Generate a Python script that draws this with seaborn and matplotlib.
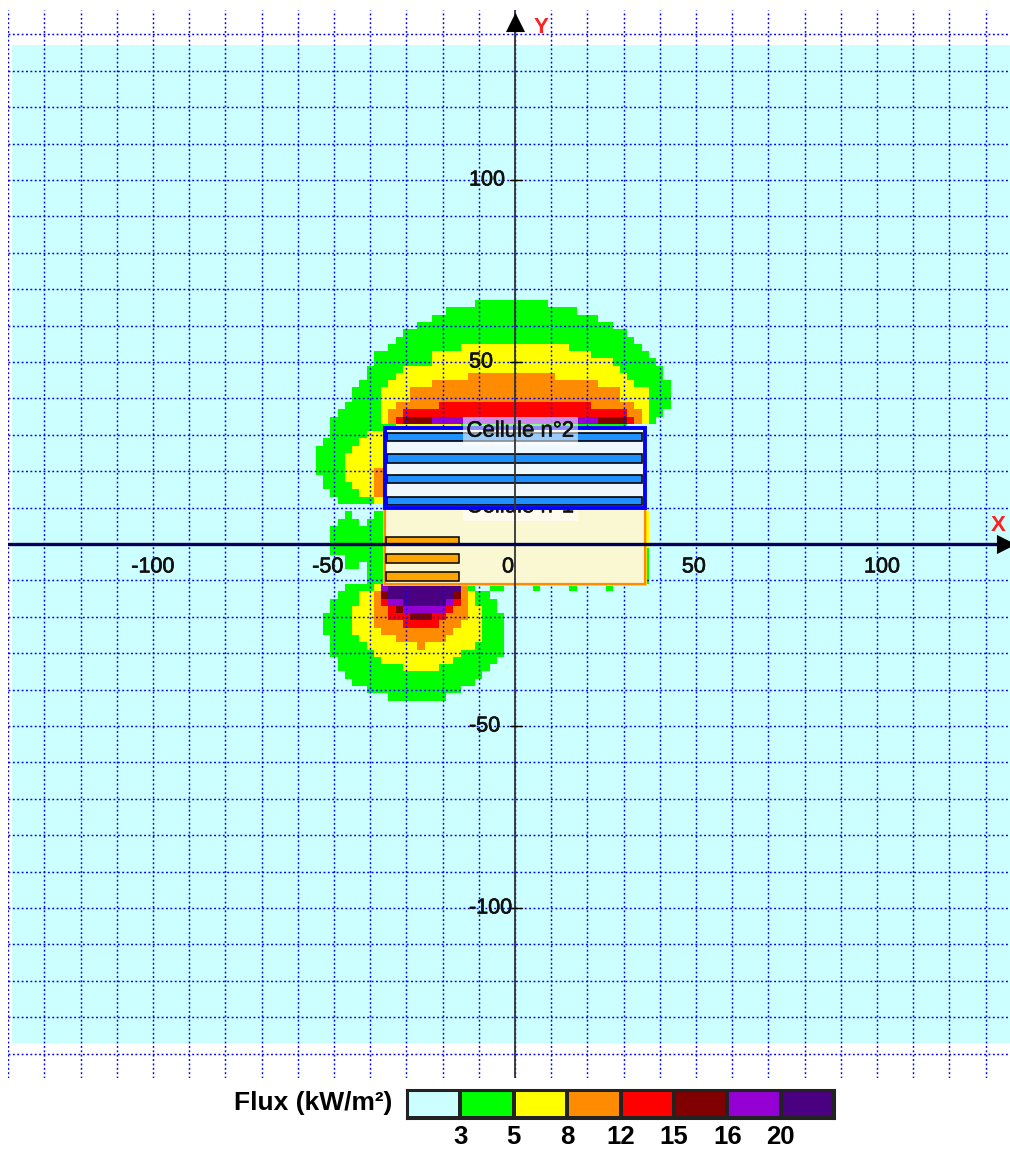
import numpy as np
import matplotlib
matplotlib.use("Agg")
import matplotlib.pyplot as plt
import matplotlib.patheffects as pe
from matplotlib.colors import ListedColormap
import seaborn as sns

# legend
flux_labels = ["3", "5", "8", "12", "15", "16", "20"]
flux_colors = ["#CCFFFF", "#00FF00", "#FFFF00", "#FF8C00", "#FF0000", "#800000", "#9400D3", "#4B0082"]

# rows of the flux map: (top of row in y, left x, right x), each band painted over the previous one
green_rows = [(67, -11, 9), (65, -19, 17), (63, -23, 23), (61, -27, 27), (59, -31, 31), (57, -33, 33),
              (55, -35, 35), (53, -39, 37), (51, -39, 39), (49, -41, 41), (47, -41, 41), (45, -43, 43),
              (43, -45, 43), (41, -45, 43), (39, -47, 43), (37, -49, 41), (35, -51, 39), (33, -51, 31),
              (31, -51, -35), (29, -53, -35), (27, -55, -35), (25, -55, -35), (23, -55, -35), (21, -55, -35),
              (19, -53, -35), (17, -53, -35), (15, -51, -35), (13, -49, -35),
              (9, -47, -45), (9, -39, -35), (7, -49, -43), (7, -41, -35), (5, -51, -35), (3, -51, -35),
              (1, -51, -35), (-1, -51, -35), (-3, -47, -35), (-5, -47, -43), (-5, -41, -35), (-7, -41, -35),
              (-9, -41, -35), (-1, 35, 37), (-3, 35, 37), (-5, 35, 37), (-7, 35, 37), (-9, 35, 37),
              (-11, -47, -11), (-11, -7, -3), (-11, 5, 7), (-11, 15, 17), (-11, 25, 27),
              (-13, -49, -7), (-15, -51, -5), (-17, -51, -5), (-19, -53, -3), (-21, -53, -3), (-23, -53, -3),
              (-25, -51, -3), (-27, -51, -3), (-29, -51, -3), (-31, -49, -5), (-33, -49, -7), (-35, -47, -9),
              (-37, -45, -11), (-39, -41, -15), (-41, -35, -19)]
yellow_rows = [(55, -15, 15), (53, -23, 21), (51, -23, 27), (49, -31, 29), (47, -33, 31), (45, -35, 33),
               (43, -37, 37), (41, -37, 37), (39, -37, 37), (37, -37, 37), (35, -37, 37), (33, -33, -15),
               (31, -41, -35), (29, -43, -35), (27, -45, -35), (25, -47, -35), (23, -47, -35), (21, -47, -35),
               (19, -47, -35), (17, -45, -35), (15, -43, -35), (13, -39, -35),
               (9, 35, 37), (7, 35, 37), (5, 35, 37), (3, 35, 37), (1, 35, 37),
               (-11, -39, -13), (-13, -43, -11), (-15, -43, -11), (-17, -45, -9), (-19, -45, -9), (-21, -45, -9),
               (-23, -45, -9), (-25, -43, -9), (-27, -41, -11), (-29, -39, -15), (-31, -37, -17), (-33, -31, -21)]
orange_rows = [(47, -13, 11), (45, -23, 23), (43, -29, 29), (41, -29, 29), (39, -33, 33), (37, -35, 35), (35, -35, 35),
               (21, -39, -35), (19, -39, -35), (17, -39, -35), (15, -39, -35),
               (-11, -37, -13), (-13, -39, -13), (-15, -39, -13), (-17, -39, -13), (-19, -39, -13),
               (-21, -39, -15), (-23, -37, -17), (-25, -33, -19), (-27, -27, -25)]
red_rows = [(39, -21, 21), (37, -31, 31), (35, -33, 33),
            (-13, -37, -15), (-15, -37, -15), (-17, -35, -17), (-19, -35, -19), (-21, -31, -21)]
maroon_rows = [(35, -31, -23), (35, 23, 31), (-13, -37, -35), (-13, -17, -15), (-17, -33, -31), (-19, -29, -23)]
purple_rows = [(35, -23, 23), (-11, -37, -35), (-15, -35, -17), (-17, -31, -19)]
indigo_rows = [(-11, -35, -15), (-13, -35, -17), (-15, -31, -19)]

# buildings
cell_x = [-36, 36]
cell1_y = [-11, 10]
cell2_y = [10, 32]
cell1_stripe_x = [-35.6, -15.6]
cell1_stripes = [(-0.3, 1.9), (-5.2, -2.7), (-10.2, -7.7)]
cell2_stripe_x = [-35.4, 35]
cell2_stripes = [(28.3, 30.5), (22.3, 24.7), (16.8, 19), (10.7, 12.9)]

# axis labels, the drawn labels sit a little off their values
x_label_values = [-100, -50, 0, 50, 100]
x_label_positions = [-100, -51.7, -1.9, 49.4, 101.4]
y_label_values = [100, 50, -50, -100]

W, H = 1010, 1149
X0, Y0 = 515, 544        # pixel of the origin
SX, SY = 3.62, 3.64      # pixels per metre


def px_axes(left, top, right, bottom):
    return [left / W, 1 - bottom / H, (right - left) / W, (bottom - top) / H]


sns.set_theme(style="white")
plt.rcParams["font.family"] = ["Liberation Sans", "DejaVu Sans"]

fig = plt.figure(figsize=(W / 100, H / 100), dpi=100, facecolor="white")

# flux map
x_edges = np.arange(-139, 138, 2)
y_edges = np.arange(137, -138, -2)
field = np.zeros((len(y_edges) - 1, len(x_edges) - 1))
bands = [green_rows, yellow_rows, orange_rows, red_rows, maroon_rows, purple_rows, indigo_rows]
for level, rows in enumerate(bands, start=1):
    for y_top, x_left, x_right in rows:
        field[(137 - y_top) // 2, (x_left + 139) // 2:(x_right + 139) // 2] = level

cmap = ListedColormap(flux_colors)
ax_field = fig.add_axes(px_axes(X0 - 139 * SX, Y0 - 137 * SY, X0 + 137 * SX, Y0 + 137 * SY))
sns.heatmap(field, ax=ax_field, cmap=cmap, vmin=-0.5, vmax=7.5, cbar=False,
            xticklabels=False, yticklabels=False, rasterized=True)
ax_field.axis("off")

# overlay with grid, buildings and axes
ax = fig.add_axes(px_axes(X0 - 140 * SX, Y0 - 146.7 * SY, W, Y0 + 146.7 * SY))
ax.patch.set_alpha(0)
ax.set_xlim(-140, (W - X0) / SX)
ax.set_ylim(-146.7, 146.7)
ax.set_xticks(np.arange(-140, 131, 10))
ax.set_yticks(np.arange(-140, 141, 10))
ax.tick_params(length=0, labelbottom=False, labelleft=False)
for s in ax.spines.values():
    s.set_visible(False)
ax.grid(True, color="#0000FF", lw=1.05, ls=(0, (1.3, 1.7)), zorder=9)
ax.set_axisbelow(False)

cell_w = cell_x[1] - cell_x[0]
ax.barh(cell1_y[0], cell_w, height=cell1_y[1] - cell1_y[0], left=cell_x[0], align="edge",
        color="none", edgecolor="#FFE000", lw=2.8, zorder=2.9)
ax.barh(cell1_y[0], cell_w, height=cell1_y[1] - cell1_y[0], left=cell_x[0], align="edge",
        color="#FAF8D2", edgecolor="#FF8C00", lw=1.6, zorder=3)
for low, high in cell1_stripes:
    ax.barh(low, cell1_stripe_x[1] - cell1_stripe_x[0], height=high - low, left=cell1_stripe_x[0], align="edge",
            color="#FFA500", edgecolor="black", lw=1.1, zorder=3.2)
ax.text(1.5, 10.2, "Cellule n°1", ha="center", va="center", fontsize=16, color="#111111", zorder=3.5,
        path_effects=[pe.withStroke(linewidth=0.4, foreground="#111111")],
        bbox=dict(facecolor="white", alpha=0.65, edgecolor="none", pad=2.5))

ax.barh(cell2_y[0], cell_w, height=cell2_y[1] - cell2_y[0], left=cell_x[0], align="edge",
        color="#F0F8FF", edgecolor="none", zorder=4)
for low, high in cell2_stripes:
    ax.barh(low, cell2_stripe_x[1] - cell2_stripe_x[0], height=high - low, left=cell2_stripe_x[0], align="edge",
            color="#1E90FF", edgecolor="black", lw=1.2, zorder=4.2)
ax.barh(cell2_y[0], cell_w, height=cell2_y[1] - cell2_y[0], left=cell_x[0], align="edge",
        color="none", edgecolor="#0000FF", lw=2.8, zorder=4.4)
ax.text(1.5, 31, "Cellule n°2", ha="center", va="center", fontsize=16, color="#111111", zorder=5,
        path_effects=[pe.withStroke(linewidth=0.4, foreground="#111111")],
        bbox=dict(facecolor="white", alpha=0.55, edgecolor="none", pad=2.5))

# axes lines, arrows and labels
ax.axvline(0, color="#333333", lw=1.3, zorder=10)
ax.axhline(0, color="#00005A", lw=2.4, zorder=10)
ax.scatter([0], [143.5], marker="^", s=190, color="black", lw=0, zorder=11, clip_on=False)
ax.scatter([135.5], [0], marker=">", s=190, color="black", lw=0, zorder=11)
ax.text(7.3, 142, "Y", color="#FF2020", fontsize=16, fontweight="bold", ha="center", va="center", zorder=11)
ax.text(133.5, 5.2, "X", color="#FF2020", fontsize=16, fontweight="bold", ha="center", va="center", zorder=11)

stroke = [pe.withStroke(linewidth=0.5, foreground="#111111")]
for v, pos in zip(x_label_values, x_label_positions):
    ax.text(pos, -6.3, str(v), ha="center", va="center", fontsize=15.5,
            color="#111111", path_effects=stroke, zorder=11)
for v in y_label_values:
    ax.plot([-1.4, 1.9], [v, v], color="black", lw=1.0, zorder=11)
    ax.text(-12.7, v, str(v), ha="left", va="center", fontsize=15.5, color="#111111", path_effects=stroke, zorder=11)

# legend
ax_leg = fig.add_axes(px_axes(407, 1090, 834, 1118))
sns.heatmap(np.arange(8).reshape(1, 8), ax=ax_leg, cmap=cmap, vmin=-0.5, vmax=7.5, cbar=False,
            linewidths=1.6, linecolor="#222222", xticklabels=False, yticklabels=False)
for s in ax_leg.spines.values():
    s.set_visible(True)
    s.set_color("#222222")
    s.set_linewidth(2.2)
ax_leg.set_xticks(np.arange(1, 8))
ax_leg.set_xticklabels(flux_labels, fontsize=18.5, fontweight="bold", color="black")
ax_leg.tick_params(axis="x", length=0, pad=5)
fig.text(392 / W, 1 - 1103 / H, "Flux (kW/m²)", ha="right", va="center", fontsize=19, fontweight="bold", color="black")

fig.savefig("out.png", dpi=100, facecolor="white")
